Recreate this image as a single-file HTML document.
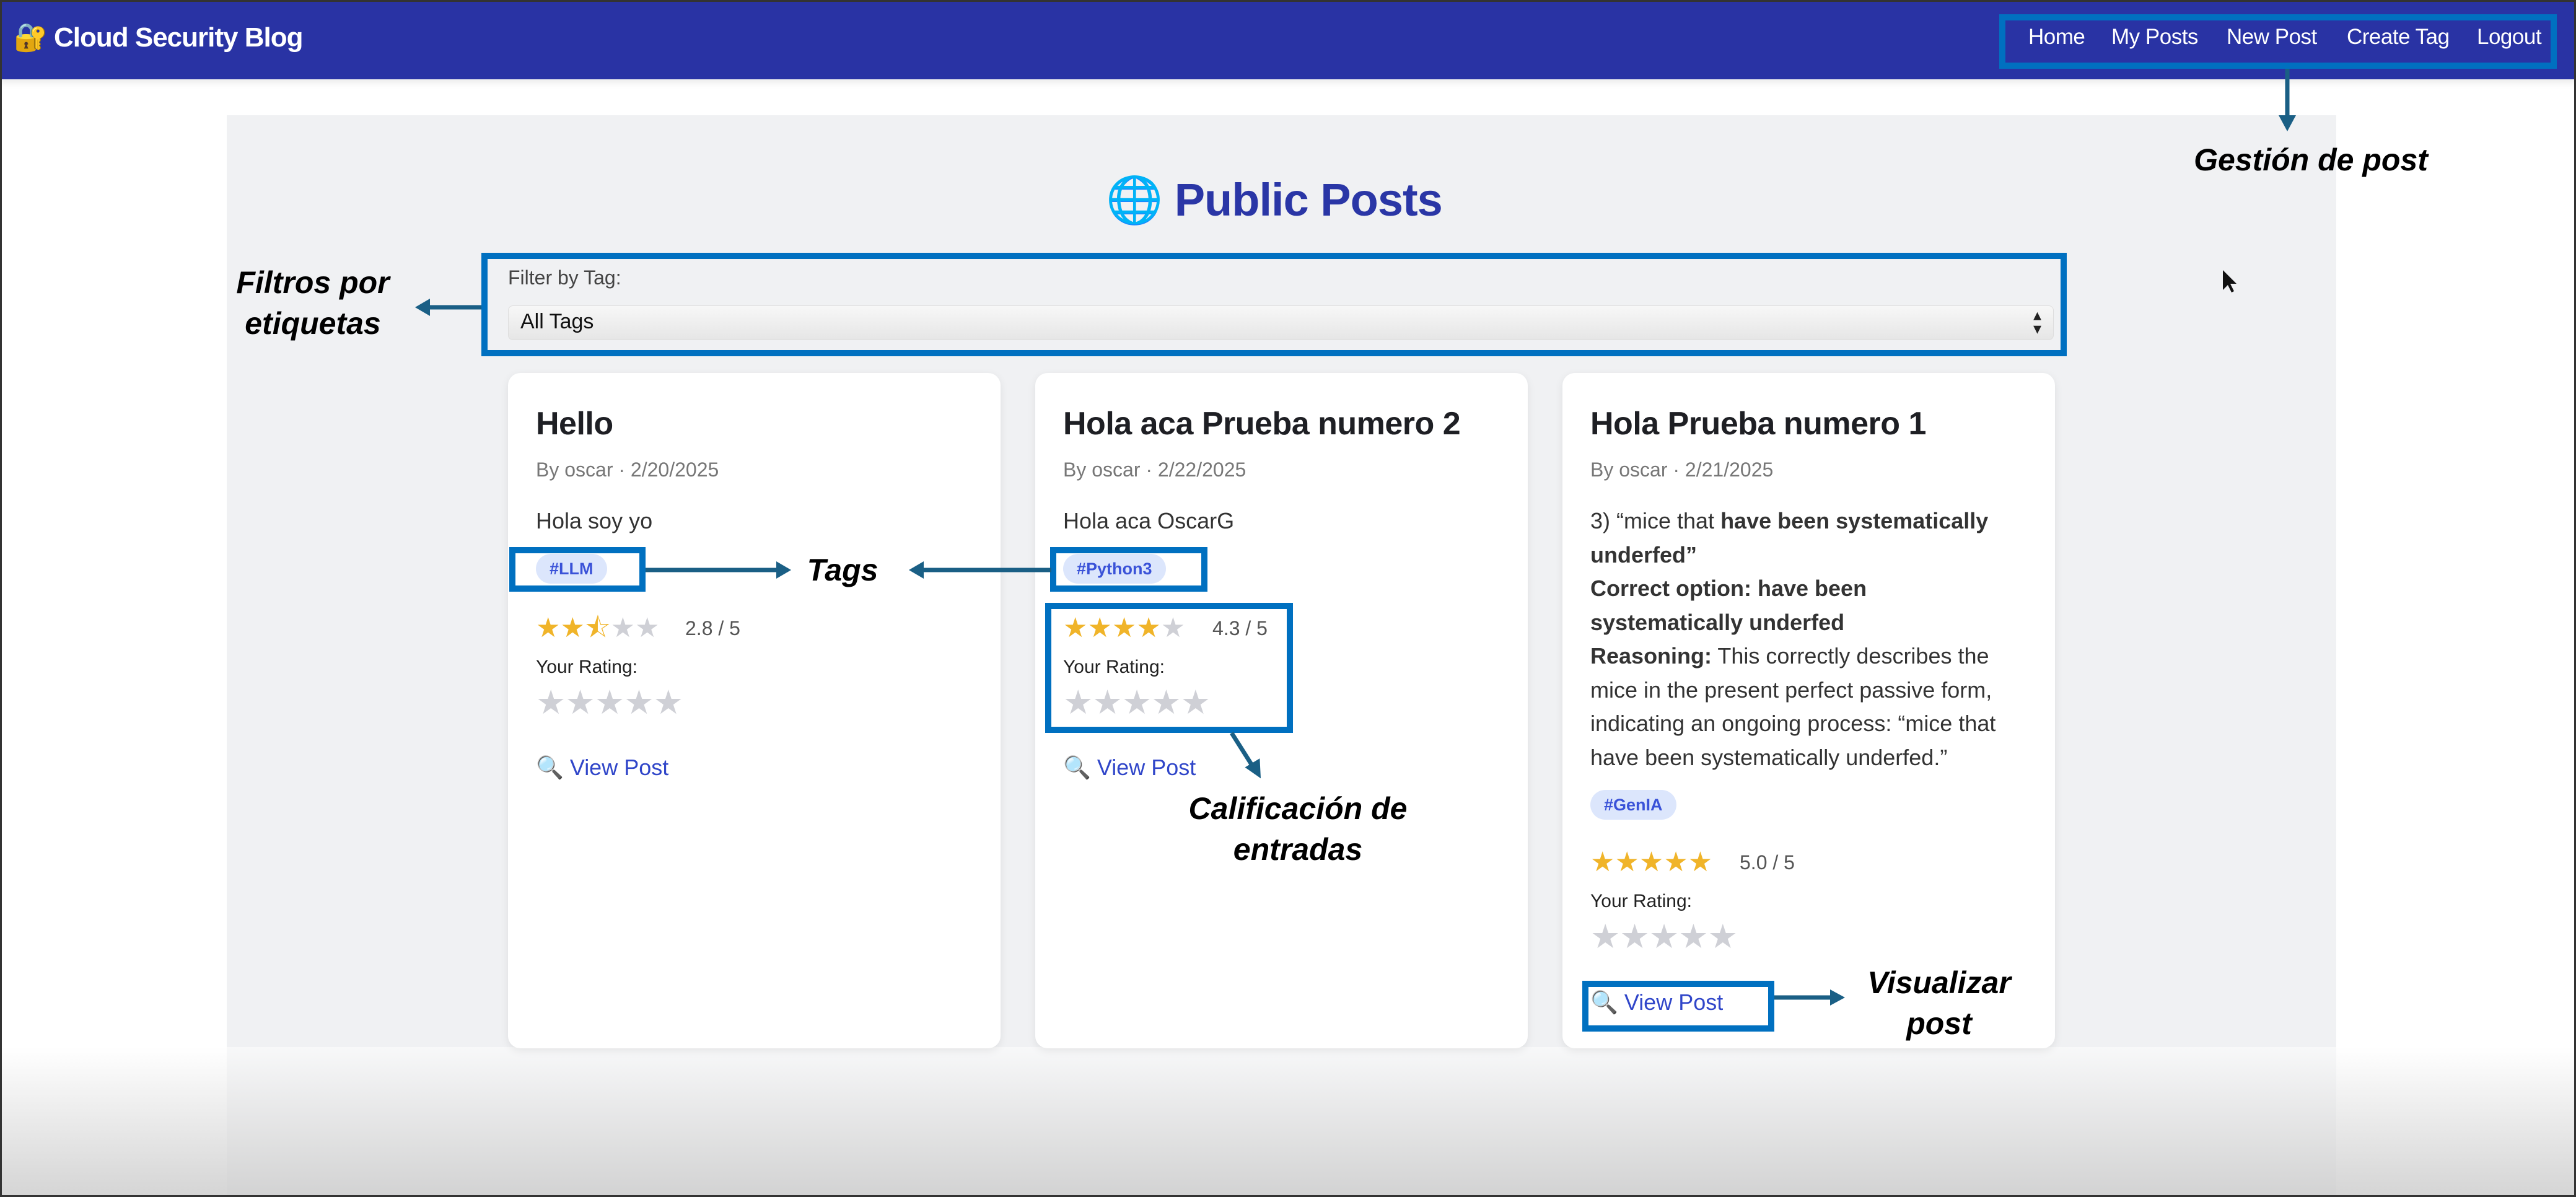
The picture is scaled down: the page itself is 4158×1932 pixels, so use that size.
<!DOCTYPE html>
<html><head><meta charset="utf-8">
<style>
*{margin:0;padding:0;box-sizing:border-box}
body{width:4158px;height:1932px;position:relative;overflow:hidden;background:#fff;font-family:"Liberation Sans",Arial,sans-serif}
.a{position:absolute}
.nav{left:0;top:0;width:4158px;height:128px;background:#2933a4;box-shadow:0 6px 10px rgba(0,0,0,.08)}
.brand{left:22px;top:34px;color:#fff;font-weight:bold;font-size:44px;letter-spacing:-1px}
.navl{top:40px;color:#fff;font-size:35px;letter-spacing:-.5px}
.panel{left:366px;top:186px;width:3405px;height:1746px;background:#f0f1f3}
.bb{position:absolute;border:10px solid #0070c0}
.card{position:absolute;top:602px;width:795px;height:1090px;background:#fff;border-radius:20px;box-shadow:0 4px 14px rgba(0,0,0,.08)}
.ct{position:absolute;left:45px;top:52px;font-size:52px;font-weight:bold;color:#1e1f24;letter-spacing:-.5px}
.meta{position:absolute;left:45px;top:138px;font-size:32px;color:#777}
.body{position:absolute;left:45px;top:212px;font-size:36px;color:#333;line-height:54.5px;width:740px;white-space:nowrap}
.pill{position:absolute;left:45px;height:48px;padding:0 22px;border-radius:24px;background:#dce6fc;color:#3a52d8;font-size:27px;font-weight:bold;line-height:48px}
.stars{position:absolute;left:45px;font-size:44px;letter-spacing:0;line-height:1}
.num{position:absolute;font-size:32px;color:#555}
.yr{position:absolute;left:45px;font-size:30px;color:#222}
.es{position:absolute;left:45px;font-size:54px;color:#cfd0d6;letter-spacing:-1px;line-height:1}
.vp{position:absolute;left:45px;font-size:36px;color:#3046c9}
.lab{position:absolute;font-weight:bold;font-style:italic;font-size:50px;color:#000;text-align:center;line-height:66px}
.y{color:#f0b429}.g{color:#cfd0d6}
</style></head><body>
<div class="a panel"></div>
<div class="a" style="left:0;top:1690px;width:4158px;height:242px;background:linear-gradient(rgba(255,255,255,0.5),rgba(205,205,205,0.85))"></div>
<div class="a nav"></div>
<div class="a brand">🔐 Cloud Security Blog</div>
<div class="a navl" style="left:3274px">Home</div>
<div class="a navl" style="left:3408px">My Posts</div>
<div class="a navl" style="left:3594px">New Post</div>
<div class="a navl" style="left:3788px">Create Tag</div>
<div class="a navl" style="left:3998px">Logout</div>
<div class="bb" style="left:3227px;top:23px;width:900px;height:88px"></div>

<div class="a" style="left:1785px;top:280px;font-size:74px;font-weight:bold;color:#2a36a6;letter-spacing:-1px">🌐 Public Posts</div>

<div class="a" style="left:820px;top:430px;font-size:32px;color:#444">Filter by Tag:</div>
<div class="a" style="left:820px;top:493px;width:2495px;height:56px;background:linear-gradient(#f7f7f7,#e6e6e6);border-radius:8px;border:1px solid #ddd"></div>
<div class="a" style="left:840px;top:500px;font-size:34px;color:#111">All Tags</div>
<div class="a" style="left:3282px;top:497px;font-size:26px;color:#222;line-height:22px">▴<br>▾</div>
<div class="bb" style="left:777px;top:408px;width:2559px;height:167px"></div>

<!-- card1 -->
<div class="card" style="left:820px">
<div class="ct">Hello</div>
<div class="meta">By oscar · 2/20/2025</div>
<div class="body">Hola soy yo</div>
<div class="pill" style="top:292px">#LLM</div>
<div class="stars" style="top:390px"><span class="y">★★</span><span class="y">⯪</span><span class="g">★★</span></div>
<div class="num" style="left:286px;top:394px">2.8 / 5</div>
<div class="yr" style="top:458px">Your Rating:</div>
<div class="es" style="top:505px">★★★★★</div>
<div class="vp" style="top:616px">🔍 View Post</div>
</div>
<!-- card2 -->
<div class="card" style="left:1671px">
<div class="ct">Hola aca Prueba numero 2</div>
<div class="meta">By oscar · 2/22/2025</div>
<div class="body">Hola aca OscarG</div>
<div class="pill" style="top:292px">#Python3</div>
<div class="stars" style="top:390px"><span class="y">★★★★</span><span class="g">★</span></div>
<div class="num" style="left:286px;top:394px">4.3 / 5</div>
<div class="yr" style="top:458px">Your Rating:</div>
<div class="es" style="top:505px">★★★★★</div>
<div class="vp" style="top:616px">🔍 View Post</div>
</div>
<!-- card3 -->
<div class="card" style="left:2522px">
<div class="ct">Hola Prueba numero 1</div>
<div class="meta">By oscar · 2/21/2025</div>
<div class="body">3) “mice that <b>have been systematically</b><br><b>underfed”</b><br><b>Correct option: have been</b><br><b>systematically underfed</b><br><b>Reasoning:</b> This correctly describes the<br>mice in the present perfect passive form,<br>indicating an ongoing process: “mice that<br>have been systematically underfed.”</div>
<div class="pill" style="top:673px">#GenIA</div>
<div class="stars" style="top:768px"><span class="y">★★★★★</span></div>
<div class="num" style="left:286px;top:772px">5.0 / 5</div>
<div class="yr" style="top:836px">Your Rating:</div>
<div class="es" style="top:883px">★★★★★</div>
<div class="vp" style="top:995px">🔍 View Post</div>
</div>

<div class="bb" style="left:822px;top:883px;width:220px;height:72px"></div>
<div class="bb" style="left:1695px;top:883px;width:254px;height:72px"></div>
<div class="bb" style="left:1687px;top:973px;width:400px;height:210px"></div>
<div class="bb" style="left:2554px;top:1583px;width:310px;height:82px"></div>

<svg class="a" style="left:0;top:0" width="4158" height="1932">
<g stroke="#1a5f85" stroke-width="7" fill="#1a5f85">
<line x1="3692" y1="111" x2="3692" y2="190"/><polygon points="3678,186 3706,186 3692,212" stroke="none"/>
<line x1="777" y1="496" x2="690" y2="496"/><polygon points="670,496 694,482 694,510" stroke="none"/>
<line x1="1042" y1="920" x2="1255" y2="920"/><polygon points="1277,920 1253,906 1253,934" stroke="none"/>
<line x1="1697" y1="920" x2="1490" y2="920"/><polygon points="1467,920 1491,906 1491,934" stroke="none"/>
<line x1="1988" y1="1183" x2="2024" y2="1240"/><polygon points="2032,1258 2010,1236 2036,1226" stroke="none" transform="rotate(-10 2024 1240)"/>
<line x1="2864" y1="1610" x2="2955" y2="1610"/><polygon points="2978,1610 2954,1597 2954,1623" stroke="none"/>
</g>
<polygon points="3588,436 3588,468 3596,460 3602,472 3606,470 3600,458 3610,458" fill="#111"/>
</svg>

<div class="lab" style="left:3490px;top:225px;width:480px">Gestión de post</div>
<div class="lab" style="left:330px;top:423px;width:350px">Filtros por<br>etiquetas</div>
<div class="lab" style="left:1280px;top:887px;width:160px">Tags</div>
<div class="lab" style="left:1860px;top:1272px;width:470px">Calificación de<br>entradas</div>
<div class="lab" style="left:2960px;top:1553px;width:340px">Visualizar<br>post</div>
<div class="a" style="left:0;top:0;width:4158px;height:1932px;border:3px solid #333"></div>
</body></html>
